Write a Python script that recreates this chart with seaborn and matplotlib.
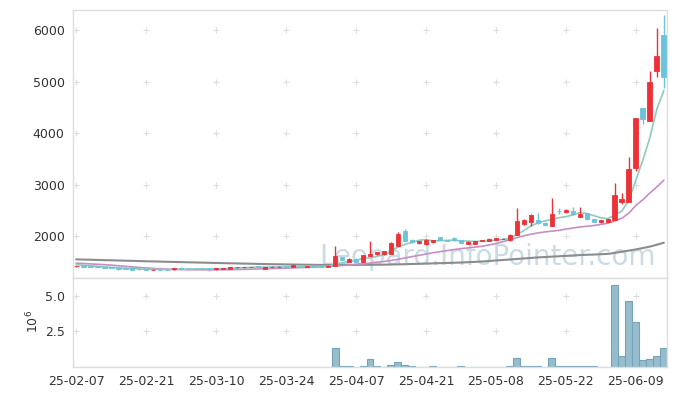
import matplotlib
matplotlib.use('Agg')
import numpy as np
import pandas as pd
import matplotlib.pyplot as plt
import seaborn as sns

# trading-day ticks (every 10 sessions)
tick_days = [0, 10, 20, 30, 40, 50, 60, 70, 80]
tick_labels = ['25-02-07', '25-02-21', '25-03-10', '25-03-24', '25-04-07',
               '25-04-21', '25-05-08', '25-05-22', '25-06-09']

# daily OHLC
open_ = [1420, 1445, 1425, 1415, 1405, 1395, 1385, 1385, 1390, 1370,
         1365, 1350, 1355, 1355, 1360, 1390, 1372, 1372, 1372, 1380,
         1365, 1370, 1365, 1398, 1398, 1405, 1420, 1365, 1408, 1405,
         1415, 1398, 1412, 1410, 1415, 1415, 1400, 1430, 1592, 1510,
         1560, 1510, 1625, 1650, 1650, 1665, 1820, 2110, 1930, 1862,
         1850, 1880, 1990, 1925, 1975, 1930, 1860, 1860, 1910, 1918,
         1935, 1945, 1922, 2025, 2245, 2284, 2316, 2265, 2207, 2495,
         2478, 2485, 2381, 2447, 2336, 2272, 2284, 2316, 2666, 2673,
         3333, 4485, 4245, 5204, 5909]
high = [1432, 1450, 1430, 1425, 1410, 1400, 1390, 1390, 1395, 1375,
        1370, 1360, 1360, 1358, 1390, 1395, 1378, 1380, 1378, 1385,
        1385, 1380, 1400, 1408, 1408, 1410, 1425, 1400, 1415, 1415,
        1418, 1455, 1418, 1420, 1420, 1420, 1435, 1820, 1600, 1570,
        1570, 1645, 1900, 1695, 1715, 1880, 2080, 2145, 1940, 1915,
        1945, 1930, 1995, 1935, 1990, 1935, 1905, 1910, 1930, 1960,
        1975, 1960, 2035, 2540, 2342, 2425, 2447, 2275, 2738, 2540,
        2530, 2565, 2576, 2450, 2340, 2325, 2345, 3029, 2834, 3534,
        4295, 4490, 5216, 6039, 6297]
low = [1410, 1405, 1400, 1395, 1385, 1375, 1340, 1360, 1350, 1355,
       1350, 1345, 1345, 1345, 1355, 1360, 1360, 1362, 1360, 1335,
       1340, 1365, 1360, 1392, 1392, 1400, 1400, 1360, 1405, 1400,
       1405, 1395, 1405, 1405, 1405, 1405, 1395, 1425, 1535, 1500,
       1500, 1505, 1620, 1640, 1645, 1660, 1810, 1900, 1875, 1855,
       1840, 1870, 1920, 1910, 1915, 1865, 1850, 1855, 1900, 1910,
       1930, 1940, 1915, 2020, 2213, 2200, 2240, 2205, 2200, 2430,
       2460, 2420, 2375, 2325, 2280, 2265, 2275, 2310, 2621, 2665,
       3275, 4181, 4240, 5100, 4874]
close = [1425, 1410, 1405, 1400, 1390, 1380, 1370, 1365, 1355, 1360,
         1355, 1355, 1348, 1350, 1385, 1365, 1365, 1368, 1368, 1365,
         1380, 1375, 1395, 1402, 1402, 1405, 1405, 1395, 1410, 1412,
         1408, 1449, 1408, 1415, 1410, 1410, 1430, 1620, 1540, 1560,
         1510, 1640, 1660, 1690, 1705, 1870, 2045, 1905, 1885, 1910,
         1930, 1920, 1928, 1918, 1920, 1870, 1896, 1900, 1922, 1950,
         1965, 1952, 2025, 2295, 2311, 2420, 2252, 2213, 2433, 2490,
         2517, 2427, 2440, 2330, 2284, 2316, 2336, 2802, 2724, 3301,
         4291, 4272, 4990, 5501, 5100]

# volume in millions of shares
volume_m = [0, 0, 0, 0, 0, 0, 0, 0, 0, 0,
            0, 0, 0, 0, 0, 0, 0, 0, 0, 0,
            0, 0, 0, 0, 0, 0, 0, 0, 0, 0,
            0, 0, 0, 0, 0, 0, 0, 1.34, 0.10, 0.10,
            0, 0.10, 0.57, 0.10, 0, 0.14, 0.35, 0.14, 0.07, 0,
            0, 0.07, 0, 0, 0, 0.07, 0, 0, 0, 0,
            0, 0, 0.07, 0.64, 0.07, 0.07, 0.07, 0, 0.64, 0.07,
            0.07, 0.07, 0.07, 0.07, 0.07, 0, 0, 5.73, 0.78, 4.60,
            3.18, 0.50, 0.57, 0.78, 1.34]

# moving averages
ma_short = [1445, 1437, 1428, 1418, 1406, 1397, 1389, 1381, 1372, 1366,
            1361, 1358, 1355, 1354, 1359, 1361, 1363, 1367, 1370, 1366,
            1369, 1371, 1377, 1383, 1391, 1396, 1402, 1402, 1403, 1405,
            1406, 1415, 1417, 1418, 1418, 1418, 1415, 1457, 1482, 1512,
            1532, 1574, 1582, 1612, 1641, 1713, 1794, 1843, 1882, 1923,
            1935, 1910, 1915, 1921, 1923, 1911, 1906, 1901, 1902, 1908,
            1927, 1938, 1963, 2037, 2110, 2201, 2261, 2298, 2326, 2362,
            2381, 2416, 2461, 2441, 2400, 2359, 2341, 2414, 2492, 2696,
            3091, 3478, 3916, 4471, 4831]
ma_mid = [1478, 1471, 1464, 1457, 1449, 1441, 1428, 1418, 1405, 1395,
          1385, 1376, 1368, 1361, 1356, 1353, 1351, 1350, 1349, 1349,
          1349, 1350, 1352, 1355, 1358, 1361, 1365, 1369, 1373, 1377,
          1381, 1386, 1391, 1396, 1401, 1406, 1412, 1423, 1432, 1442,
          1452, 1465, 1480, 1495, 1510, 1530, 1553, 1580, 1605, 1630,
          1655, 1680, 1702, 1722, 1742, 1760, 1775, 1790, 1805, 1830,
          1860, 1895, 1935, 1975, 2010, 2040, 2065, 2085, 2100, 2115,
          2140, 2160, 2180, 2195, 2210, 2230, 2255, 2300, 2350, 2450,
          2600, 2710, 2840, 2960, 3090]
ma_long = [1552, 1548, 1545, 1541, 1537, 1534, 1530, 1526, 1523, 1519,
           1515, 1512, 1509, 1505, 1502, 1499, 1495, 1492, 1489, 1485,
           1482, 1479, 1476, 1473, 1470, 1467, 1464, 1461, 1458, 1456,
           1454, 1452, 1450, 1448, 1446, 1444, 1443, 1442, 1443, 1444,
           1445, 1446, 1447, 1448, 1449, 1452, 1455, 1458, 1462, 1466,
           1470, 1474, 1478, 1482, 1486, 1490, 1497, 1503, 1510, 1520,
           1530, 1540, 1550, 1560, 1570, 1580, 1590, 1597, 1605, 1612,
           1620, 1628, 1635, 1641, 1646, 1652, 1658, 1678, 1700, 1722,
           1745, 1772, 1800, 1836, 1875]

UP = '#ec3237'
DOWN = '#6cc3da'
GRID = '#dedede'
TEXT = '#333333'

df = pd.DataFrame({'day': np.arange(len(close)), 'open': open_, 'high': high,
                   'low': low, 'close': close, 'vol': volume_m,
                   'ma_short': ma_short, 'ma_mid': ma_mid, 'ma_long': ma_long})

sns.set_theme(style='white')
plt.rcParams['font.family'] = ['DejaVu Sans']

fig = plt.figure(figsize=(6.77, 3.96), dpi=100)
ax = fig.add_axes([73 / 677, 1 - 278 / 396, 594 / 677, 268 / 396])
axv = fig.add_axes([73 / 677, 1 - 367 / 396, 594 / 677, 89 / 396])

# price panel: moving averages then candles
sns.lineplot(data=df, x='day', y='ma_long', ax=ax, color='#8c8c8c', linewidth=1.5, zorder=2)
sns.lineplot(data=df, x='day', y='ma_mid', ax=ax, color='#c98dc6', linewidth=1.2, zorder=2)
sns.lineplot(data=df, x='day', y='ma_short', ax=ax, color='#8ccbbe', linewidth=1.2, zorder=2)

up = df['close'] >= df['open']
colors = np.where(up, UP, DOWN)
ax.vlines(df['day'], df['low'], df['high'], colors=colors, linewidth=1, zorder=3)
ax.bar(df['day'], (df['close'] - df['open']).abs(), bottom=df[['open', 'close']].min(axis=1),
       width=0.68, color=colors, edgecolor=colors, linewidth=0.6, zorder=4)

ax.text(0.698, 0.048, 'Leopard.InfoPointer.com', transform=ax.transAxes,
        ha='center', va='baseline', fontsize=20, color='#b9d0de', alpha=0.75, zorder=1)

# volume panel
sns.barplot(data=df, x='day', y='vol', ax=axv, native_scale=True, width=1.0,
            color='#97bdcd', edgecolor='#74a4ba', linewidth=0.8, saturation=1,
            errorbar=None, zorder=2)

price_ticks = [2000, 3000, 4000, 5000, 6000]
vol_ticks = [2.5, 5.0]

for a in (ax, axv):
    a.set_xlim(-0.45, 84.45)
    a.set_xlabel('')
    a.set_ylabel('')
    for s in a.spines.values():
        s.set_color(GRID)
        s.set_linewidth(1)

ax.set_ylim(1190, 6395)
ax.set_yticks(price_ticks)
ax.set_yticklabels([str(t) for t in price_ticks])
ax.set_xticks([])
ax.tick_params(axis='y', length=0, pad=6, labelsize=9, labelcolor=TEXT)

axv.set_ylim(0, 6.23)
axv.set_yticks(vol_ticks)
axv.set_yticklabels(['2.5', '5.0'])
axv.set_xticks(tick_days)
axv.set_xticklabels(tick_labels)
axv.tick_params(axis='y', length=0, pad=6, labelsize=9, labelcolor=TEXT)
axv.tick_params(axis='x', length=3, width=1, color=GRID, pad=3, labelsize=9, labelcolor=TEXT)

# grid shown as small crosses at tick intersections
gx, gy = np.meshgrid(tick_days, price_ticks)
ax.scatter(gx.ravel(), gy.ravel(), marker='+', s=18, color=GRID, linewidth=0.8, zorder=0)
gx, gy = np.meshgrid(tick_days, vol_ticks)
axv.scatter(gx.ravel(), gy.ravel(), marker='+', s=18, color=GRID, linewidth=0.8, zorder=0)

fig.text(33 / 677, 1 - 321 / 396, r'$10^{6}$', rotation=90, ha='center', va='center',
         fontsize=9, color=TEXT)

fig.savefig('out.png', dpi=100)
